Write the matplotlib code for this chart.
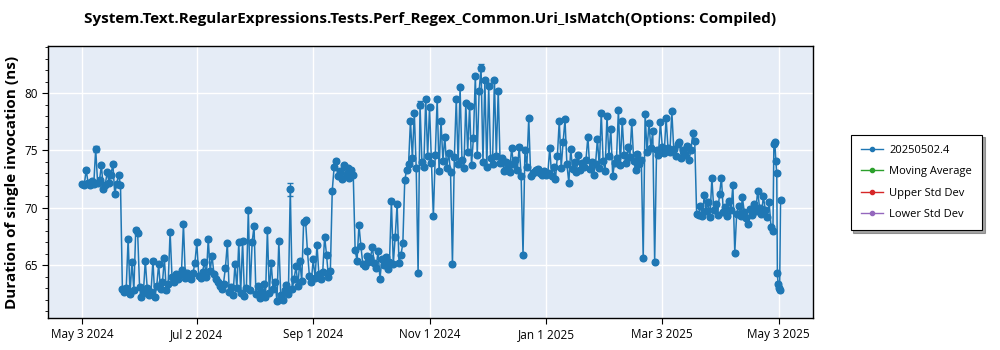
import datetime as dt
import matplotlib
matplotlib.use("Agg")
import matplotlib.pyplot as plt
from matplotlib.lines import Line2D

title = "System.Text.RegularExpressions.Tests.Perf_Regex_Common.Uri_IsMatch(Options: Compiled)"
ylabel = "Duration of single invocation (ns)"
legend_names = ["20250502.4", "Moving Average", "Upper Std Dev", "Lower Std Dev"]
legend_colors = ["#1f77b4", "#2ca02c", "#d62728", "#9467bd"]

start_date = dt.datetime(2024, 5, 3)

# one value per day, starting May 3 2024
vals_may = [72.1, 72.0, 73.3, 72.2, 72.0, 72.3, 72.1, 75.1, 72.2, 72.4,
            73.7, 71.6, 72.0, 73.1, 72.2, 72.9, 73.8, 71.2, 72.1, 72.9, 72.0]
vals_jun = [62.9, 62.7, 63.0, 67.3, 62.5, 65.3, 62.8, 68.1, 67.8, 63.1,
            62.2, 62.6, 65.4, 63.0, 62.4, 62.7, 65.4, 62.2, 63.2, 65.1,
            62.9, 63.5, 65.6, 62.8, 63.4, 67.9, 64.0, 63.5, 64.2, 63.8]
vals_jul = [64.2, 64.6, 68.6, 63.9, 64.3, 64.0, 63.8, 64.3, 65.2, 67.0,
            64.1, 63.9, 64.4, 65.3, 64.0, 67.3, 64.5, 65.8, 64.2, 63.8]
vals_aug = [63.5, 63.2, 62.9, 63.4, 64.8, 66.9, 62.7, 63.1, 62.4, 65.1,
            63.0, 67.0, 62.6, 67.1, 62.3, 63.0, 69.8, 62.8, 67.0, 68.4,
            62.5, 63.2, 62.1, 62.7, 63.4, 62.2, 68.1, 62.6, 65.2, 62.9,
            63.5, 61.9, 67.1, 62.4, 62.0]
vals_sep = [62.8, 63.3, 62.5, 71.6, 62.9, 63.8, 64.9, 63.2, 65.4, 63.6,
            68.8, 68.9, 66.2, 64.1, 63.5, 65.5, 63.9, 66.8, 64.2, 63.8,
            64.4, 67.5, 65.9, 64.0, 64.5]
vals_sep_high = [71.5, 73.6, 74.1, 72.8, 73.2, 72.5, 73.7, 72.9, 73.5, 72.6,
                 73.3, 72.9]
vals_oct = [66.3, 65.4, 68.5, 66.7, 65.1, 64.9, 65.8, 65.3, 65.6, 66.6,
            65.2, 64.8, 66.2, 63.8, 65.5, 65.0, 65.7, 64.7, 65.3, 70.6,
            65.1, 67.5, 70.3, 65.2, 65.9, 66.9]
vals_nov = [72.4, 73.3, 73.8, 77.6, 74.3, 78.3, 73.5, 64.3, 79.0, 74.0,
            73.6, 79.5, 74.5, 78.8, 73.9, 69.3, 74.6, 79.5, 73.2, 77.6,
            74.1, 76.2, 73.5, 74.8, 73.1, 65.1, 74.4, 79.5, 73.8, 80.5,
            74.2, 73.5, 79.1, 74.9, 78.9, 73.7, 76.1, 81.5, 74.6, 80.2,
            82.2, 74.0, 81.1, 73.6, 80.6, 74.3, 73.8, 81.1, 74.5, 80.2]
vals_dec = [73.9, 74.3, 73.2, 74.0, 73.5, 73.1, 75.2, 73.8, 74.2, 73.3,
            75.3, 72.8, 65.9, 75.0, 73.6, 77.8, 72.8, 73.0, 73.1, 73.3,
            73.4, 73.0, 72.9, 73.2, 72.9, 73.0, 75.2, 72.8, 73.6, 72.5,
            74.5, 77.6, 73.5, 75.7, 77.7, 73.8, 72.2, 75.1, 73.4, 74.0,
            73.1, 74.6, 73.3, 73.9]
vals_feb = [73.6, 74.2, 76.2, 73.4, 74.0, 72.9, 73.8, 76.0, 73.5, 78.3,
            74.1, 73.2, 78.0, 74.5, 76.9, 72.8, 73.9, 74.3, 78.5, 73.7,
            77.6, 74.6, 73.9, 75.3, 74.4, 77.5, 74.1, 73.3, 74.7, 73.8,
            74.2, 65.6, 78.2, 74.9, 77.4, 75.2, 76.7, 65.3, 75.0, 74.6,
            77.5, 75.3, 74.8, 77.8, 75.2, 74.9, 78.4, 75.1, 74.5, 75.6,
            75.7, 74.3, 75.0, 74.6, 75.4, 74.2, 75.0, 76.5, 75.8]
vals_apr = [69.5, 69.4, 70.2, 69.3, 71.1, 69.7, 70.5, 69.2, 72.6, 69.8,
            70.3, 69.4, 71.2, 72.6, 69.6, 70.1, 69.3, 70.6, 69.8, 72.0,
            66.1, 69.5, 70.2, 69.3, 70.9, 69.6, 69.1, 68.6, 69.9, 69.4,
            70.3, 69.7, 71.5, 70.0, 69.5, 71.0, 69.8, 69.2, 70.5, 68.3]
daily_values = (vals_may + vals_jun + vals_jul + vals_aug + vals_sep + vals_sep_high
                + vals_oct + vals_nov + vals_dec + vals_feb + vals_apr)

# final runs, several per day (timestamps)
final_times = ["2025-04-30 00:00", "2025-04-30 12:00", "2025-05-01 00:00",
               "2025-05-01 12:00", "2025-05-02 00:00", "2025-05-02 08:00",
               "2025-05-02 16:00", "2025-05-03 00:00", "2025-05-03 12:00",
               "2025-05-04 00:00"]
final_values = [68.0, 75.6, 75.7, 74.1, 73.0, 64.3, 63.4, 63.0, 62.8, 70.7]

dates = [start_date + dt.timedelta(days=i) for i in range(len(daily_values))]
dates += [dt.datetime.strptime(s, "%Y-%m-%d %H:%M") for s in final_times]
values = daily_values + final_values

err_default = 0.15
err_override = {109: 0.6, 7: 0.25, 209: 0.3, 177: 0.3}
errs = [err_override.get(i, err_default) for i in range(len(values))]

tick_dates = [dt.datetime(2024, 5, 3), dt.datetime(2024, 7, 2), dt.datetime(2024, 9, 1),
              dt.datetime(2024, 11, 1), dt.datetime(2025, 1, 1), dt.datetime(2025, 3, 3),
              dt.datetime(2025, 5, 3)]
tick_labels = ["May 3 2024", "Jul 2 2024", "Sep 1 2024", "Nov 1 2024",
               "Jan 1 2025", "Mar 3 2025", "May 3 2025"]

plt.rcParams['font.family'] = ['Open Sans', 'DejaVu Sans']

fig = plt.figure(figsize=(10, 3.5), dpi=100)
ax = fig.add_axes([0.048, 0.0914, 0.765, 0.7772])
ax.set_facecolor("#E5ECF6")

ax.errorbar(dates, values, yerr=errs, color="#1f77b4", lw=1.1, marker='o',
            ms=4.8, capsize=2.2, elinewidth=0.9, ecolor="#1f77b4", zorder=3)

ax.set_xlim(dt.datetime(2024, 4, 15), dt.datetime(2025, 5, 21))
ax.set_ylim(60.4, 84.1)
ax.set_xticks(tick_dates)
ax.set_xticklabels(tick_labels, fontsize=8.5)
ax.set_yticks([65, 70, 75, 80])
ax.set_yticklabels(["65", "70", "75", "80"], fontsize=8.5)
ax.yaxis.set_minor_locator(matplotlib.ticker.MultipleLocator(1))
ax.grid(True, which='major', color='white', lw=1.0)
ax.set_axisbelow(True)
for s in ax.spines.values():
    s.set_color('black')
    s.set_linewidth(1.0)
ax.tick_params(axis='both', which='major', length=4)
ax.tick_params(axis='y', which='minor', length=2)

ax.set_ylabel(ylabel, fontsize=11, fontweight='bold')
fig.text(0.4305, 0.945, title, ha='center', va='center', fontsize=11, fontweight='bold')

handles = [Line2D([0], [0], color=c, marker='o', ms=3, lw=1.0) for c in legend_colors]
leg = fig.legend(handles, legend_names, loc='center left',
                 bbox_to_anchor=(0.845, 0.479), fontsize=8, frameon=True,
                 shadow=True, fancybox=False, handlelength=2.0, borderpad=0.9,
                 labelspacing=0.95, handletextpad=0.6)
leg.get_frame().set_edgecolor('black')
leg.get_frame().set_linewidth(0.8)

fig.savefig("out.png", dpi=100)
